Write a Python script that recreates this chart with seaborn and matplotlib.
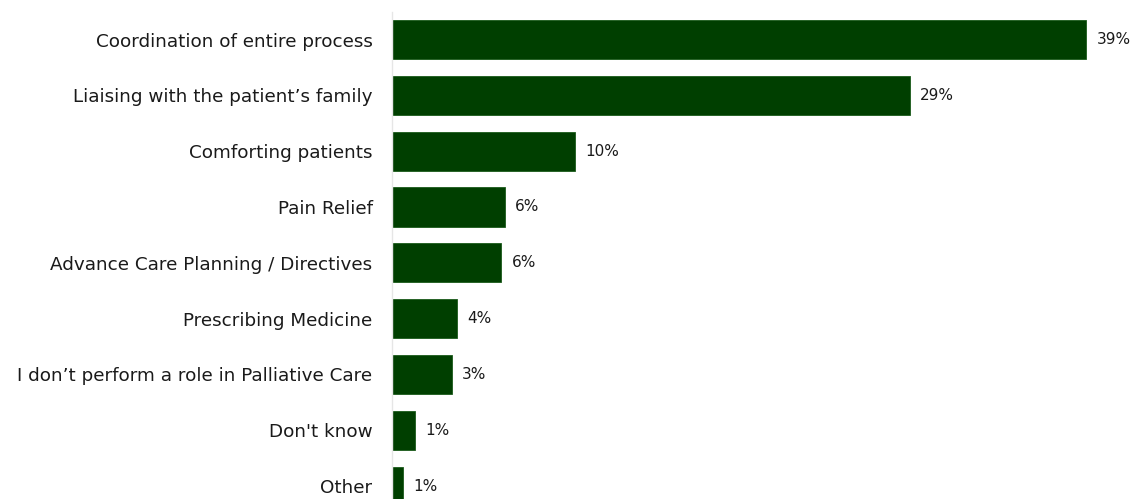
import matplotlib
matplotlib.use("Agg")
import matplotlib.pyplot as plt
import seaborn as sns
import pandas as pd

categories = [
    "Coordination of entire process",
    "Liaising with the patient\u2019s family",
    "Comforting patients",
    "Pain Relief",
    "Advance Care Planning / Directives",
    "Prescribing Medicine",
    "I don\u2019t perform a role in Palliative Care",
    "Don't know",
    "Other",
]
shares = [39.4, 29.4, 10.4, 6.4, 6.2, 3.7, 3.4, 1.3, 0.6]

df = pd.DataFrame({"role": categories, "share": shares})

sns.set_theme(style="white")
plt.rcParams["font.family"] = ["DejaVu Sans"]

fig = plt.figure(figsize=(11.3, 4.99), dpi=100)
ax = fig.add_axes([392 / 1130, 1 - 514 / 499, 1 - 392 / 1130, 502.4 / 499])

sns.barplot(data=df, x="share", y="role", color="#003f00", width=0.7,
            saturation=1, ax=ax, orient="h")
for p in ax.patches:
    p.set_edgecolor("#1a5a1a")
    p.set_linewidth(0.6)

xmax = 39.4 * 738 / 694
ax.set_xlim(0, xmax)
ax.set_ylim(8.5, -0.5)

for i, v in enumerate(shares):
    ax.annotate(f"{v:.0f}%", xy=(v, i), xytext=(7.5, 0), textcoords="offset points",
                va="center", ha="left", fontsize=11, color="#1a1a1a")

ax.set_xlabel("")
ax.set_ylabel("")
ax.set_xticks([])
ax.tick_params(axis="y", length=0, pad=14, labelsize=13.2, labelcolor="#1a1a1a")
for side in ["top", "right", "bottom"]:
    ax.spines[side].set_visible(False)
ax.spines["left"].set_color("#e6e6e6")
ax.spines["left"].set_linewidth(1)

fig.savefig("out.png", dpi=100)
